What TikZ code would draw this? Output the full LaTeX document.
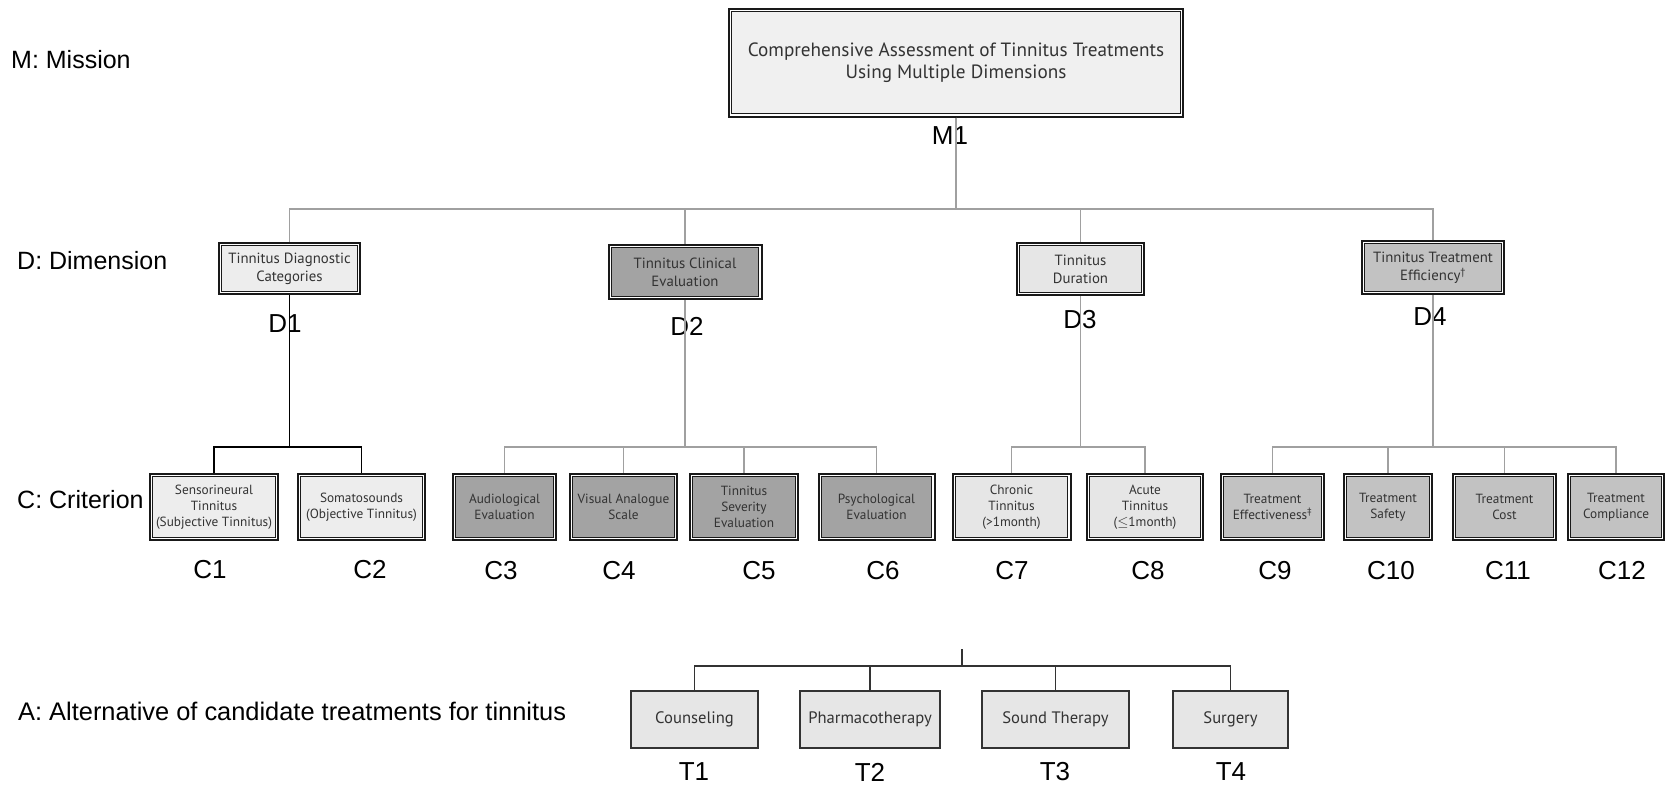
\documentclass[tikz,border=0pt]{standalone}
\usepackage{fontspec}
\setmainfont{Liberation Sans}
\newfontfamily\boxfont{PT Sans}
\definecolor{lightA}{HTML}{EDEDED}
\definecolor{lightM}{HTML}{F0F0F0}
\definecolor{lightB}{HTML}{E6E6E6}
\definecolor{darkG}{HTML}{A3A3A3}
\definecolor{midG}{HTML}{C2C2C2}
\definecolor{lineG}{HTML}{A0A0A0}
\begin{document}
\begin{tikzpicture}[x=1pt,y=-1pt,
  box/.style={rectangle, inner sep=0pt, align=center, text=black!80},
  dbox/.style={box, draw=black!90, line width=2pt,
    path picture={
      \draw[white, line width=1.3pt] ([shift={(1.65pt,1.65pt)}]path picture bounding box.south west) rectangle ([shift={(-1.65pt,-1.65pt)}]path picture bounding box.north east);
      \draw[black!90, line width=1pt] ([shift={(2.8pt,2.8pt)}]path picture bounding box.south west) rectangle ([shift={(-2.8pt,-2.8pt)}]path picture bounding box.north east);}},
  mfont/.style={font=\boxfont\fontsize{19.2}{22}\selectfont},
  dfont/.style={font=\boxfont\fontsize{14.8}{18}\selectfont},
  cfont/.style={font=\boxfont\fontsize{13.3}{16}\selectfont},
  tbox/.style={box, draw=black!80, line width=1.3pt, fill=lightB, font=\boxfont\fontsize{16.6}{18}\selectfont},
  lab/.style={font=\fontsize{26}{30}\selectfont, inner sep=0pt},
  side/.style={font=\fontsize{25}{30}\selectfont, inner sep=0pt, anchor=west},
  gline/.style={draw=lineG, line width=1.1pt},
  bline/.style={draw=black, line width=1.4pt},
  tline/.style={draw=black!80, line width=1.1pt}
]
\useasboundingbox[fill=white] (0,0) rectangle (1665,787);

% side labels
\node[side] (sM) at (11,60) {M: Mission};
\node[side] (sD) at (17,261) {D: Dimension};
\node[side] (sC) at (17,500) {C: Criterion};
\node[side, font=\fontsize{25.4}{30}\selectfont] (sA) at (18,711) {A: Alternative of candidate treatments for tinnitus};

% bus coordinates
\coordinate (busD) at (0,209);
\coordinate (busC) at (0,447);
\coordinate (busT) at (0,666);
\coordinate (Tstub) at (962,649);

% mission
\node[dbox, mfont, fill=lightM, minimum width=454pt, minimum height=108pt] (M1) at (956,62.5)
  {Comprehensive Assessment of Tinnitus Treatments\\Using Multiple Dimensions};
\node[lab] (lM1) at (950,136) {M1};

% dimensions
\node[dbox, dfont, fill=lightA, minimum width=141pt, minimum height=51pt] (D1) at (289.5,268.5) {Tinnitus Diagnostic\\Categories};
\node[dbox, dfont, fill=darkG, minimum width=153pt, minimum height=54pt] (D2) at (685,272) {Tinnitus Clinical\\Evaluation};
\node[dbox, dfont, fill=lightB, minimum width=127pt, minimum height=52pt] (D3) at (1080.5,269) {Tinnitus\\Duration};
\node[dbox, dfont, fill=midG, minimum width=142pt, minimum height=53pt] (D4) at (1433,267.5) {Tinnitus Treatment\\Efficiency\textsuperscript{\textdagger}};
\node[lab] (lD1) at (285,324) {D1};
\node[lab] (lD2) at (687,326) {D2};
\node[lab] (lD3) at (1080,320) {D3};
\node[lab] (lD4) at (1430,317) {D4};

% criteria
\begin{scope}[every node/.append style={minimum height=66pt}]
\node[dbox, cfont, fill=lightA, minimum width=128pt] (C1) at (214,507) {Sensorineural\\Tinnitus\\(Subjective Tinnitus)};
\node[dbox, cfont, fill=lightA, minimum width=127pt] (C2) at (361.5,507) {Somatosounds\\(Objective Tinnitus)};
\node[dbox, cfont, fill=darkG, minimum width=103pt] (C3) at (504.5,507) {Audiological\\Evaluation};
\node[dbox, cfont, fill=darkG, minimum width=107pt] (C4) at (623.5,507) {Visual Analogue\\Scale};
\node[dbox, cfont, fill=darkG, minimum width=108pt] (C5) at (744,507) {Tinnitus\\Severity\\Evaluation};
\node[dbox, cfont, fill=darkG, minimum width=116pt] (C6) at (876.5,507) {Psychological\\Evaluation};
\node[dbox, cfont, fill=lightB, minimum width=118pt] (C7) at (1011.5,507) {Chronic\\Tinnitus\\(>1month)};
\node[dbox, cfont, fill=lightB, minimum width=116pt] (C8) at (1145,507) {Acute\\Tinnitus\\($\leq$1month)};
\node[dbox, cfont, fill=midG, minimum width=103pt] (C9) at (1272.5,507) {Treatment\\Effectiveness\textsuperscript{\textdaggerdbl}};
\node[dbox, cfont, fill=midG, minimum width=88pt] (C10) at (1388,507) {Treatment\\Safety};
\node[dbox, cfont, fill=midG, minimum width=103pt] (C11) at (1504.5,507) {Treatment\\Cost};
\node[dbox, cfont, fill=midG, minimum width=96pt] (C12) at (1616,507) {Treatment\\Compliance};
\end{scope}
\node[lab] (lC1) at (210,570) {C1};
\node[lab] (lC2) at (370,570) {C2};
\node[lab] (lC3) at (501,571) {C3};
\node[lab] (lC4) at (619,571) {C4};
\node[lab] (lC5) at (759,571) {C5};
\node[lab] (lC6) at (883,571) {C6};
\node[lab] (lC7) at (1012,571) {C7};
\node[lab] (lC8) at (1148,571) {C8};
\node[lab] (lC9) at (1275,571) {C9};
\node[lab] (lC10) at (1391,571) {C10};
\node[lab] (lC11) at (1508,571) {C11};
\node[lab] (lC12) at (1622,571) {C12};

% treatments
\begin{scope}[every node/.append style={minimum height=57pt}]
\node[tbox, minimum width=127pt] (T1) at (694.5,719.5) {Counseling};
\node[tbox, minimum width=140pt] (T2) at (870,719.5) {Pharmacotherapy};
\node[tbox, minimum width=147pt] (T3) at (1055.5,719.5) {Sound Therapy};
\node[tbox, minimum width=115pt] (T4) at (1230.5,719.5) {Surgery};
\end{scope}
\node[lab] (lT1) at (694,772) {T1};
\node[lab] (lT2) at (870,772) {T2};
\node[lab] (lT3) at (1055,772) {T3};
\node[lab] (lT4) at (1231,772) {T4};

% connectors M -> D
\foreach \d in {D1,D2,D3,D4}
  \draw[gline] (M1.south) -- (M1.south |- busD) -| (\d.north);

% D1 -> C1, C2 (black)
\foreach \c in {C1,C2}
  \draw[bline] (D1.south) -- (D1.south |- busC) -| (\c.north);
% D2 -> C3..C6
\foreach \c in {C3,C4,C5,C6}
  \draw[gline] (D2.south) -- (D2.south |- busC) -| (\c.north);
% D3 -> C7, C8
\foreach \c in {C7,C8}
  \draw[gline] (D3.south) -- (D3.south |- busC) -| (\c.north);
% D4 -> C9..C12
\foreach \c in {C9,C10,C11,C12}
  \draw[gline] (D4.south) -- (D4.south |- busC) -| (\c.north);

% treatments
\foreach \t in {T1,T2,T3,T4}
  \draw[tline] (Tstub) -- (Tstub |- busT) -| (\t.north);
\end{tikzpicture}
\end{document}
